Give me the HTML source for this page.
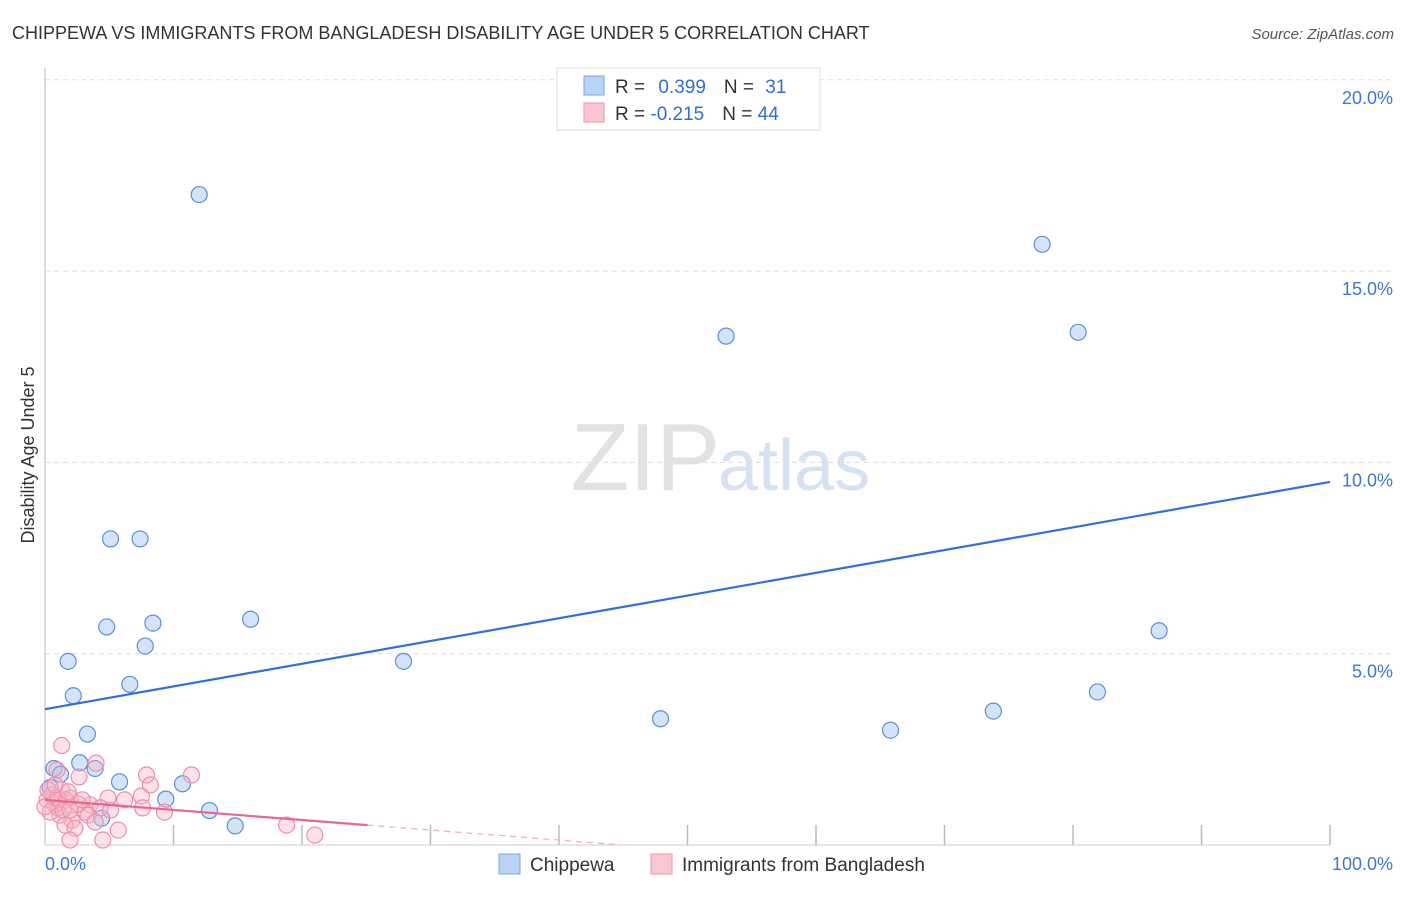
<!DOCTYPE html>
<html><head><meta charset="utf-8">
<style>
body{margin:0;background:#fff;font-family:"Liberation Sans",sans-serif;}
svg text{font-family:"Liberation Sans",sans-serif;}
</style></head>
<body>
<svg id="c" width="1406" height="892">
<text x="12" y="39" font-size="18" fill="#333">CHIPPEWA VS IMMIGRANTS FROM BANGLADESH DISABILITY AGE UNDER 5 CORRELATION CHART</text>
<text x="1394" y="39" font-size="15" fill="#555" font-style="italic" text-anchor="end">Source: ZipAtlas.com</text>
<text x="720" y="490" font-size="96" fill="#e2e2e2" text-anchor="end" font-family="Liberation Serif">ZIP</text>
<text x="718" y="490" font-size="72" fill="#d5e2f3">atlas</text>
<text transform="translate(34,455) rotate(-90)" font-size="18" fill="#333" text-anchor="middle">Disability Age Under 5</text>
<g id="grid"></g><g id="marks"></g>
<g>
<rect x="557" y="68" width="263" height="62" fill="#fff" stroke="#ddd"/>
<rect x="584" y="76" width="20" height="19" fill="#b8d3f4" stroke="#7aa6e0"/>
<rect x="584" y="103" width="20" height="19" fill="#f9c6d4" stroke="#ee92ad"/>
<text x="615" y="93" font-size="19" fill="#333">R = <tspan fill="#2f6fd0" dx="8">0.399</tspan><tspan dx="18" fill="#333">N = </tspan><tspan fill="#2f6fd0" dx="6">31</tspan></text>
<text x="615" y="120" font-size="19" fill="#333">R = <tspan fill="#2f6fd0">-0.215</tspan><tspan dx="18" fill="#333">N = </tspan><tspan fill="#2f6fd0">44</tspan></text>
</g>
<g>
<rect x="499" y="854" width="21" height="20" fill="#b8d3f4" stroke="#7aa6e0"/>
<text x="530" y="871" font-size="19" fill="#333">Chippewa</text>
<rect x="651" y="854" width="21" height="20" fill="#f9c6d4" stroke="#ee92ad"/>
<text x="682" y="871" font-size="19" fill="#333">Immigrants from Bangladesh</text>
</g>
<text x="45" y="870" font-size="18" fill="#3a78d4">0.0%</text>
<text x="1393" y="870" font-size="18" fill="#3a78d4" text-anchor="end">100.0%</text>
</svg>
<script>
const yTicks=[5,10,15,20];
const yTickLabels=["5.0%","10.0%","15.0%","20.0%"];
const xTicks=[10,20,30,40,50,60,70,80,90,100];
const chipX=[12.0,77.6,53.0,80.4,5.1,7.4,16.0,8.4,4.8,7.8,86.7,1.8,27.9,6.6,2.2,81.9,47.9,73.8,65.8,3.3,0.7,2.7,3.9,1.2,5.8,10.7,9.4,12.8,4.4,14.8,0.4];
const chipY=[17.0,15.7,13.3,13.4,8.0,8.0,5.9,5.8,5.7,5.2,5.6,4.8,4.8,4.2,3.9,4.0,3.3,3.5,3.0,2.9,2.0,2.15,2.0,1.85,1.65,1.6,1.2,0.9,0.7,0.5,1.5];
const bangX=[1.3,3.97,0.93,2.65,7.9,1.3,1.95,0.16,0.78,7.5,4.9,7.6,9.3,3.5,4.3,3.1,1.17,2.1,1.56,2.33,5.7,4.5,1.95,11.4,8.2,18.8,21.0,1.0,0.4,1.6,2.6,0.55,0.23,1.0,1.4,1.8,5.1,6.2,3.35,3.9,0.78,0.0,1.95,2.9];
const bangY=[2.6,2.14,1.96,1.78,1.83,1.44,1.23,1.18,1.05,1.28,1.23,0.97,0.86,1.05,0.97,0.86,0.78,0.65,0.52,0.44,0.39,0.13,0.13,1.83,1.57,0.52,0.26,0.97,0.86,1.18,1.07,1.31,1.44,1.23,0.91,1.39,0.91,1.18,0.78,0.6,1.57,1.0,0.91,1.18];
const trendChip=[3.55,9.49];
const trendBang=[1.18,-0.0263];
const X=v=>45+v*12.85, Y=v=>845-v*38.26;
const ns="http://www.w3.org/2000/svg";
function mk(t,a,p){const e=document.createElementNS(ns,t);for(const k in a)e.setAttribute(k,a[k]);p.appendChild(e);return e;}
const g=document.getElementById('grid'),m=document.getElementById('marks');
yTicks.forEach((t,i)=>{
 const l=mk('line',{x1:45,x2:1394,y1:Y(t),y2:Y(t),stroke:'#ddd','stroke-dasharray':'5,4'},g);
 
 
 const tx=mk('text',{x:1393,y:Y(t)+24,'font-size':18,fill:'#3a78d4','text-anchor':'end'},g);
 tx.textContent=yTickLabels[i];
 
 
});
const ax=mk('line',{x1:45,x2:45,y1:68,y2:845,stroke:'#bbb'},g);


const bx=mk('line',{x1:45,x2:1330,y1:845,y2:845,stroke:'#ccc'},g);


xTicks.forEach(t=>{
 const l=mk('line',{x1:X(t),x2:X(t),y1:825,y2:845,stroke:'#bbb','stroke-width':1.5},g);
 
 
});
chipX.forEach((v,i)=>{
 const c=mk('circle',{cx:X(v),cy:Y(chipY[i]),r:8,fill:'rgba(160,196,240,0.45)',stroke:'#5b8fd8','stroke-width':1.2},m);
 
 
});
bangX.forEach((v,i)=>{
 const c=mk('circle',{cx:X(v),cy:Y(bangY[i]),r:8,fill:'rgba(248,180,200,0.4)',stroke:'#ec8fab','stroke-width':1.2},m);
 
 
});
const tl=mk('line',{x1:X(0),y1:Y(trendChip[0]),x2:X(100),y2:Y(trendChip[1]),stroke:'#2f72d6','stroke-width':2.2},m);


const xEnd=25.1, xZero=-trendBang[0]/trendBang[1];
const pl=mk('line',{x1:X(0),y1:Y(trendBang[0]),x2:X(xEnd),y2:Y(trendBang[0]+trendBang[1]*xEnd),stroke:'#e9678f','stroke-width':2.2},m);


const pd=mk('line',{x1:X(xEnd),y1:Y(trendBang[0]+trendBang[1]*xEnd),x2:X(xZero),y2:Y(0),stroke:'#eeaabb','stroke-width':1.2,'stroke-dasharray':'6,5'},m);


</script>
</body></html>
